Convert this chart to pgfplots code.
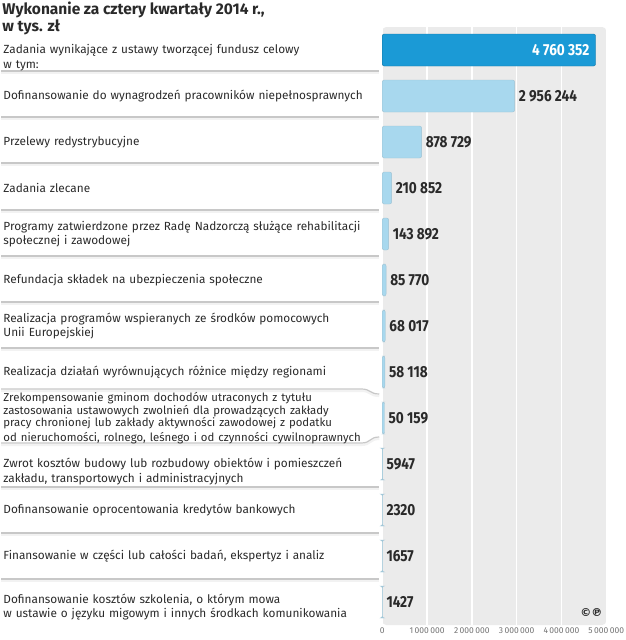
\documentclass[border=0pt]{standalone}
\usepackage{pgfplots}
\pgfplotsset{compat=1.18}
\usepackage{fontspec}
\setmainfont{Fira Sans}
\newfontfamily\numfont{Fira Sans}[FakeStretch=0.85]
\newfontfamily\symfont{DejaVu Sans}
\definecolor{panel}{HTML}{EBEBEB}
\definecolor{darkbar}{HTML}{1B9AD6}
\definecolor{lightbar}{HTML}{A8D8EE}
\definecolor{sepline}{HTML}{C8C8C8}
\definecolor{txt}{HTML}{2A2A2A}

\begin{document}
\begin{tikzpicture}[x=1pt,y=1pt]
\path (0,0) rectangle (624,640);
% title
\node[anchor=north west, align=left, inner sep=0pt, text=txt,
      font=\bfseries\fontsize{15.5}{17}\selectfont] at (1,638)
  {Wykonanie za cztery kwartały 2014 r.,\\w tys. zł};
% row separators (left y / right y, pixels from top)
\foreach \l/\r in {71/71,117/117,163/163,210/210,256/256,302/302,348/348,
                   389/394,443/437,487/487,533/533,579/579} {
  \draw[line width=2.5pt, black!5] (0,638.2-\l) -- (360,638.2-\l)
     .. controls (370,638.2-\l) and (368,638.2-\r) .. (378,638.2-\r);
  \draw[line width=1.2pt, sepline] (0,640-\l) -- (360,640-\l)
     .. controls (370,640-\l) and (368,640-\r) .. (378,640-\r);
}
\begin{axis}[
  xbar, bar shift=0pt, bar width=32pt,
  at={(381pt,15pt)}, anchor=south west,
  scale only axis, width=224pt, height=598pt,
  xmin=0, xmax=5000000, ymin=-0.5, ymax=12.5, y dir=reverse,
  scaled x ticks=false,
  axis line style={draw=none},
  axis background/.style={fill=panel, rounded corners=4pt},
  xtick={0,1000000,2000000,3000000,4000000,5000000},
  xticklabels={0,1\,000\,000,2\,000\,000,3\,000\,000,4\,000\,000,5\,000\,000},
  xticklabel style={font=\fontsize{8.5}{9}\selectfont, text=black!55, inner sep=1pt, yshift=-2pt},
  xmajorgrids, grid style={white, line width=1.5pt},
  major tick length=0pt,
  ytick={0,...,12},
  yticklabels={
    {\rule{0pt}{25pt}Zadania wynikające z ustawy tworzącej fundusz celowy\\w tym:},
    {Dofinansowanie do wynagrodzeń pracowników niepełnosprawnych},
    {Przelewy redystrybucyjne},
    {Zadania zlecane},
    {Programy zatwierdzone przez Radę Nadzorczą służące rehabilitacji\\społecznej i zawodowej},
    {Refundacja składek na ubezpieczenia społeczne},
    {Realizacja programów wspieranych ze środków pomocowych\\Unii Europejskiej},
    {Realizacja działań wyrównujących różnice między regionami},
    {\fontsize{11.4}{12.4}\selectfont Zrekompensowanie gminom dochodów utraconych z tytułu\\zastosowania ustawowych zwolnień dla prowadzących zakłady\\pracy chronionej lub zakłady aktywności zawodowej z podatku\\od nieruchomości, rolnego, leśnego i od czynności cywilnoprawnych},
    {\rule{0pt}{25pt}Zwrot kosztów budowy lub rozbudowy obiektów i pomieszczeń\\zakładu, transportowych i administracyjnych},
    {Dofinansowanie oprocentowania kredytów bankowych},
    {Finansowanie w części lub całości badań, ekspertyz i analiz},
    {\rule{0pt}{20pt}Dofinansowanie kosztów szkolenia, o którym mowa\\w ustawie o języku migowym i innych środkach komunikowania}},
  yticklabel style={anchor=west, xshift=-379pt, text width=376pt, align=left,
    inner sep=0pt, text=txt, font=\fontsize{11.8}{14.5}\selectfont},
  point meta=explicit symbolic,
  nodes near coords,
  every node near coord/.append style={font=\numfont\bfseries\fontsize{16}{16}\selectfont, text=txt, inner sep=1pt},
  clip=false
]
\addplot[fill=darkbar, draw=darkbar!75!black, rounded corners=2pt,
  nodes near coords style={anchor=east, text=white, xshift=-5pt}]
  coordinates {(4760352,0) [4~760~352]};
\addplot[fill=lightbar, draw=lightbar!75!gray, rounded corners=2pt,
  nodes near coords style={anchor=west, xshift=3pt}]
  coordinates {
    (2956244,1) [2~956~244]
    (878729,2) [878~729]
    (210852,3) [210~852]
    (143892,4) [143~892]
    (85770,5) [85~770]
    (68017,6) [68~017]
    (58118,7) [58~118]
    (50159,8) [50~159]
    (5947,9) [5947]
    (2320,10) [2320]
    (1657,11) [1657]
    (1427,12) [1427]
  };
\end{axis}
\node[font=\symfont\bfseries\fontsize{11}{11}\selectfont, text=txt, inner sep=0pt] at (590,27) {©℗};
\end{tikzpicture}
\end{document}
